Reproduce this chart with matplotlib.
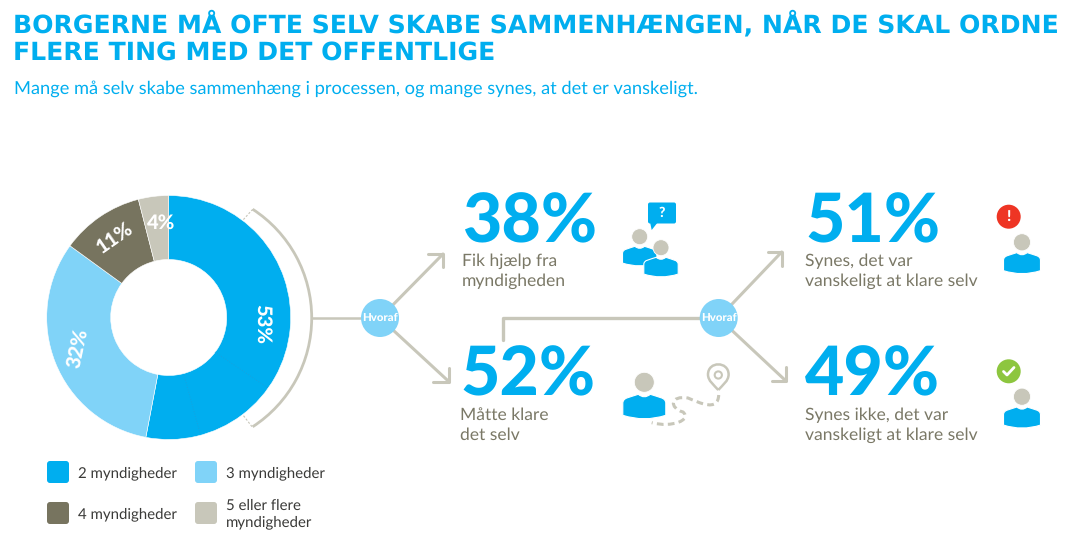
"""Infographic: borgerne skaber selv sammenhaengen."""
import numpy as np
import matplotlib
matplotlib.use("Agg")
import matplotlib.pyplot as plt
from matplotlib.patches import Circle, FancyBboxPatch, PathPatch, Arc, Polygon
from matplotlib.path import Path

W, H = 1073, 543
BLUE = "#00AEEF"; LIGHT = "#80D3F8"; DARK = "#77745F"; SAND = "#C8C7BA"
TXT = "#7A7866"; LEG = "#3A3A38"
FONT = "Lato"
plt.rcParams["font.family"] = FONT
plt.rcParams["text.hinting"] = "no_hinting"

title_lines = ["BORGERNE MÅ OFTE SELV SKABE SAMMENHÆNGEN, NÅR DE SKAL ORDNE",
               "FLERE TING MED DET OFFENTLIGE"]
subtitle = "Mange må selv skabe sammenhæng i processen, og mange synes, at det er vanskeligt."

donut_values = [53, 32, 11, 4]
donut_labels = ["53%", "32%", "11%", "4%"]
legend_labels = ["2 myndigheder", "3 myndigheder", "4 myndigheder", "5 eller flere\nmyndigheder"]
stat_values = ["38%", "52%", "51%", "49%"]
stat_captions = ["Fik hjælp fra\nmyndigheden", "Måtte klare\ndet selv",
                 "Synes, det var\nvanskeligt at klare selv",
                 "Synes ikke, det var\nvanskeligt at klare selv"]
hub_label = "Hvoraf"

fig = plt.figure(figsize=(W / 100, H / 100), dpi=100, facecolor="white")

# ----- donut, in its own axes -----
cx, cy, R, r_in = 168.7, 317.5, 122, 58
pie_ax = fig.add_axes([(cx - R) / W, 1 - (cy + R) / H, 2 * R / W, 2 * R / H])
pie_ax.pie(donut_values, colors=[BLUE, LIGHT, DARK, SAND], startangle=90, counterclock=False,
           radius=1, wedgeprops=dict(width=1 - r_in / R, edgecolor="white", linewidth=0.4))
pie_ax.set_xlim(-1, 1); pie_ax.set_ylim(-1, 1)

# ----- everything else in pixel coordinates -----
ax = fig.add_axes([0, 0, 1, 1], facecolor="none")
ax.set_xlim(0, W); ax.set_ylim(H, 0); ax.axis("off")


def line(xs, ys, lw=2.2, color=SAND, **kw):
    ax.plot(xs, ys, color=color, lw=lw, solid_capstyle="round", solid_joinstyle="round", **kw)


def arrow(x0, y0, x1, y1, hx, hy):
    line([x0, x1], [y0, y1])
    line([hx, x1, x1], [y1, y1, hy])


def person(x, y, s=1.0):
    # y is the centre of the head
    body = [(-21.5, 21), (-21.5, 15), (-14, 15), (-6, 12), (0, 17), (6, 12), (14, 15),
            (21.5, 15), (21.5, 21), (21.5, 27), (21.5, 27), (21.5, 33), (0, 40),
            (-21.5, 33), (-21.5, 27), (-21.5, 21)]
    codes = [Path.MOVETO, Path.CURVE4, Path.CURVE4, Path.CURVE4, Path.CURVE3, Path.CURVE3,
             Path.CURVE4, Path.CURVE4, Path.CURVE4, Path.LINETO, Path.LINETO, Path.LINETO,
             Path.CURVE3, Path.CURVE3, Path.LINETO, Path.CLOSEPOLY]
    verts = [(x + s * a, y + s * b) for a, b in body]
    ax.add_patch(PathPatch(Path(verts, codes), fc=BLUE, ec="white", lw=0.8, zorder=3))
    ax.add_patch(Circle((x, y), 10 * s, fc=SAND, ec="white", lw=0.6, zorder=3))


# faint seams inside the 53% slice
for a0, b0, a1, b1 in [(215, 352, 268, 388), (184, 375, 200, 433)]:
    ax.plot([a0, a1], [b0, b1], color="#1C9FDB", lw=0.6, ls=(0, (1, 2)))

# bracket around the 53% slice
ax.add_patch(Arc((182, 318), 259.4, 259.4, theta1=-57, theta2=57, color=SAND, lw=2.0))
ax.plot([252.7, 243], [209.3, 220], color=SAND, lw=0.8, ls=(0, (2, 1.5)))
ax.plot([252, 243], [426.7, 415], color=SAND, lw=0.8, ls=(0, (2, 1.5)))

# connectors and arrows
line([312, 380], [318, 318], lw=1.8)
line([503.3, 503.3, 718], [340, 318, 318], lw=2.4)
arrow(380, 318, 443, 254, 428, 267)
arrow(380, 318, 449, 381.7, 433, 368)
arrow(718.7, 318, 781.7, 252, 767.7, 266)
arrow(718.7, 318, 786, 381, 771.7, 366.7)

for hx in [380, 718.7]:
    ax.add_patch(Circle((hx, 318), 19, fc=LIGHT, ec="none", zorder=4))
    ax.text(hx, 318, hub_label, color="white", fontsize=8.2, fontweight="black",
            ha="center", va="center", zorder=5)

# donut labels
donut_text = [(262, 324, -90), (78, 348, 78), (115, 238, 35), (161, 223, 0)]
for lab, (tx, ty, rot) in zip(donut_labels, donut_text):
    ax.text(tx, ty, lab, color="white", fontsize=14.5, fontweight="black", ha="center", va="center",
            rotation=rot, rotation_mode="anchor")

# title block
ax.text(13, 32.3, title_lines[0], color=BLUE, fontsize=18.1, fontweight="bold",
        family="DejaVu Sans", va="baseline")
ax.text(13, 59.5, title_lines[1], color=BLUE, fontsize=18.1, fontweight="bold",
        family="DejaVu Sans", va="baseline")
ax.text(14, 94, subtitle, color=BLUE, fontsize=13.15, va="baseline")

# big numbers and captions
stat_xy = [(462, 242, 261), (460, 395.5, 415), (805, 242, 261), (805, 395.5, 415)]
for val, cap, (tx, ty, cap_y) in zip(stat_values, stat_captions, stat_xy):
    ax.text(tx, ty, val, color=BLUE, fontsize=49, fontweight="black", va="baseline")
    for i, row in enumerate(cap.split("\n")):
        ax.text(tx, cap_y + i * 20, row, color=TXT, fontsize=12.6, va="center")

# legend
leg_xy = [(47, 461), (195, 461), (47, 502), (195, 502)]
for lab, col, (lx, ly) in zip(legend_labels, [BLUE, LIGHT, DARK, SAND], leg_xy):
    ax.add_patch(FancyBboxPatch((lx + 2, ly + 2), 18, 18, boxstyle="round,pad=2,rounding_size=3",
                                fc=col, ec="none"))
    rows = lab.split("\n")
    for i, row in enumerate(rows):
        ax.text(lx + 30.5, ly + 12 + (i - (len(rows) - 1) / 2) * 16, row,
                color=LEG, fontsize=10.8, va="center")

# ----- icons -----
person(639.7, 236.7, 0.8)
person(661, 247.7, 0.8)
ax.add_patch(FancyBboxPatch((650, 204.5), 24, 17, boxstyle="round,pad=2,rounding_size=2",
                            fc=BLUE, ec="none"))
ax.add_patch(Polygon([(650, 222), (658, 222), (651.7, 230)], fc=BLUE, ec="none"))
ax.text(662, 213, "?", color="white", fontsize=10, fontweight="black", ha="center", va="center")

person(644.3, 382.3, 1.0)
pin = Path([(718.3, 390), (714, 385), (708, 381), (708, 374.5), (708, 361), (728.6, 361),
            (728.6, 374.5), (728.6, 381), (722.6, 385), (718.3, 390)],
           [Path.MOVETO] + [Path.CURVE4] * 9)
ax.add_patch(PathPatch(pin, fc="none", ec=SAND, lw=1.8))
ax.add_patch(Circle((718.3, 375), 3.6, fc="none", ec=SAND, lw=1.5))
trail = Path([(718.7, 395), (718, 412), (700, 403), (688, 398), (670, 395), (669, 408),
              (683, 412), (692, 420), (672, 428), (651.7, 422.7)],
             [Path.MOVETO] + [Path.CURVE4] * 9)
ax.add_patch(PathPatch(trail, fc="none", ec=SAND, lw=2.2, ls=(0, (2.2, 1.4))))

person(1022, 242.3, 0.86)
ax.add_patch(Circle((1008.7, 216.7), 12, fc="#EE3524", ec="none"))
ax.text(1008.7, 216.5, "!", color="white", fontsize=11, fontweight="black", ha="center", va="center")
person(1022, 396.7, 0.86)
ax.add_patch(Circle((1008.7, 371.3), 12, fc="#8DC63F", ec="none"))
line([1003.5, 1007, 1014], [371.5, 375, 367.5], color="white", lw=2)

fig.savefig("out.png", dpi=100)
